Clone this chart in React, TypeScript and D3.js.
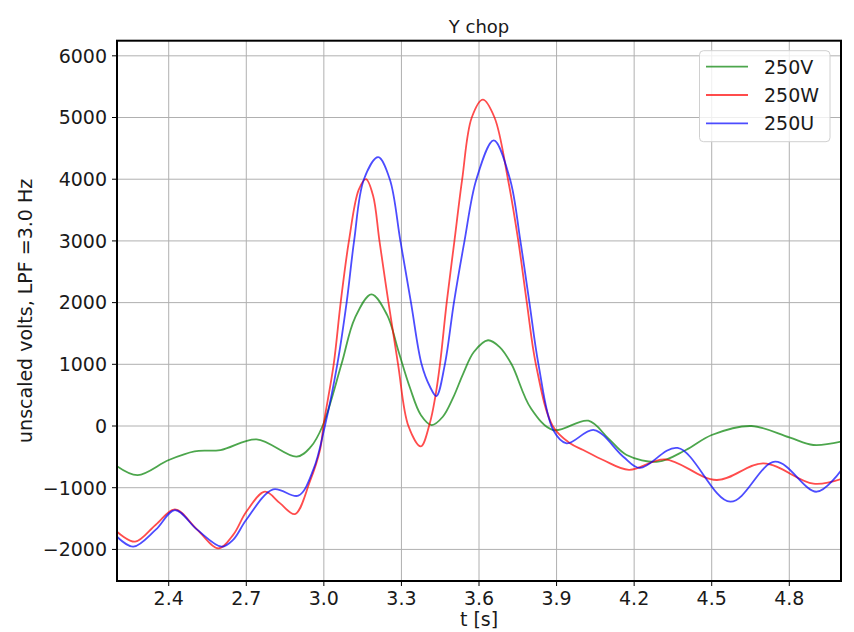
import React from "react";
import * as d3 from "d3";

const title = "Y chop";
const xLabel = "t [s]";
const yLabel = "unscaled volts, LPF =3.0 Hz";
const xTicks = [2.4, 2.7, 3.0, 3.3, 3.6, 3.9, 4.2, 4.5, 4.8];
const yTicks = [-2000, -1000, 0, 1000, 2000, 3000, 4000, 5000, 6000];
const seriesNames = ["250V", "250W", "250U"];
const seriesColors = ["#008000", "#ff0000", "#0000ff"];

const tV = [2.2, 2.28, 2.4, 2.5, 2.6, 2.74, 2.895, 2.95, 2.995, 3.068, 3.12, 3.184, 3.245, 3.288, 3.333, 3.375, 3.417, 3.46, 3.5, 3.539, 3.58, 3.635, 3.68, 3.726, 3.8, 3.887, 4.023, 4.1, 4.171, 4.293, 4.4, 4.5, 4.654, 4.8, 4.893, 5.0];
const vV = [-650, -795, -551, -410, -390, -216, -497, -335, 0, 1000, 1750, 2135, 1796, 1220, 620, 180, 16, 150, 460, 850, 1200, 1390, 1280, 1000, 292, -65, 86, -200, -470, -578, -389, -146, 0, -184, -308, -254];

const tW = [2.2, 2.27, 2.35, 2.424, 2.51, 2.592, 2.65, 2.7, 2.772, 2.83, 2.888, 2.946, 2.985, 3.0, 3.038, 3.065, 3.097, 3.135, 3.163, 3.19, 3.215, 3.25, 3.287, 3.327, 3.375, 3.41, 3.43, 3.449, 3.475, 3.505, 3.535, 3.572, 3.615, 3.66, 3.712, 3.752, 3.785, 3.82, 3.885, 3.952, 4.003, 4.08, 4.18, 4.319, 4.519, 4.7, 4.893, 5.0];
const vW = [-1713, -1875, -1600, -1351, -1680, -1983, -1760, -1390, -1065, -1250, -1427, -900, -390, 50, 1000, 2000, 3000, 3830, 4000, 3740, 3000, 2000, 1000, 0, -330, 50, 450, 1000, 2000, 3000, 4000, 5000, 5290, 5000, 4000, 3000, 2000, 1000, 0, -281, -389, -551, -710, -540, -875, -605, -935, -860];

const tU = [2.2, 2.263, 2.35, 2.424, 2.51, 2.605, 2.65, 2.7, 2.804, 2.901, 2.96, 3.004, 3.052, 3.088, 3.117, 3.155, 3.21, 3.255, 3.296, 3.337, 3.378, 3.41, 3.435, 3.468, 3.503, 3.544, 3.59, 3.657, 3.72, 3.76, 3.795, 3.83, 3.887, 3.939, 4.045, 4.158, 4.222, 4.368, 4.572, 4.745, 4.906, 5.0];
const vU = [-1794, -1956, -1680, -1362, -1680, -1956, -1840, -1520, -1027, -1129, -700, 0, 1000, 2000, 3000, 4000, 4357, 4000, 3000, 2000, 1000, 640, 486, 1000, 2000, 3000, 4000, 4630, 4000, 3000, 2000, 1000, -65, -281, -65, -497, -680, -355, -1227, -578, -1065, -720];

const seriesT = [tV, tW, tU];
const seriesVals = [vV, vW, vU];

const W = 854;
const H = 632;
const left = 117;
const right = 841;
const top = 40.7;
const bottom = 581;
const font = "'DejaVu Sans', sans-serif";

export default function App() {
  const x = d3.scaleLinear().domain([2.2, 5.0]).range([left, right]);
  const y = d3.scaleLinear().domain([-2512, 6245]).range([bottom, top]);
  const line = d3
    .line<[number, number]>()
    .x((d) => x(d[0]))
    .y((d) => y(d[1]))
    .curve(d3.curveCatmullRom.alpha(0.5));

  return (
    <svg
      width={W}
      height={H}
      viewBox={`0 0 ${W} ${H}`}
      style={{ position: "absolute", left: 0, top: 0, background: "#fff" }}
    >
      <defs>
        <clipPath id="plotclip">
          <rect x={left} y={top} width={right - left} height={bottom - top} />
        </clipPath>
      </defs>
      <rect x={0} y={0} width={W} height={H} fill="#fff" />
      {xTicks.map((t) => (
        <line key={"gx" + t} x1={x(t)} x2={x(t)} y1={top} y2={bottom} stroke="#b0b0b0" strokeWidth={1} />
      ))}
      {yTicks.map((v) => (
        <line key={"gy" + v} x1={left} x2={right} y1={y(v)} y2={y(v)} stroke="#b0b0b0" strokeWidth={1} />
      ))}
      <g clipPath="url(#plotclip)">
        {seriesT.map((ts, i) => (
          <path
            key={seriesNames[i]}
            d={line(ts.map((t, j) => [t, seriesVals[i][j]] as [number, number])) || ""}
            fill="none"
            stroke={seriesColors[i]}
            strokeOpacity={0.7}
            strokeWidth={1.8}
          />
        ))}
      </g>
      <rect x={left} y={top} width={right - left} height={bottom - top} fill="none" stroke="#000" strokeWidth={2} />
      {xTicks.map((t) => (
        <g key={"tx" + t}>
          <line x1={x(t)} x2={x(t)} y1={bottom} y2={bottom + 5} stroke="#000" strokeWidth={1} />
          <text x={x(t)} y={605} textAnchor="middle" fontFamily={font} fontSize={19} fill="#1a1a1a">
            {t.toFixed(1)}
          </text>
        </g>
      ))}
      {yTicks.map((v) => (
        <g key={"ty" + v}>
          <line x1={left - 5} x2={left} y1={y(v)} y2={y(v)} stroke="#000" strokeWidth={1} />
          <text x={107} y={y(v)} dy="0.36em" textAnchor="end" fontFamily={font} fontSize={19} fill="#1a1a1a">
            {v < 0 ? "\u2212" + Math.abs(v) : String(v)}
          </text>
        </g>
      ))}
      <text x={(left + right) / 2} y={33} textAnchor="middle" fontFamily={font} fontSize={18} fill="#1a1a1a">
        {title}
      </text>
      <text x={(left + right) / 2} y={626} textAnchor="middle" fontFamily={font} fontSize={19} fill="#1a1a1a">
        {xLabel}
      </text>
      <text
        transform={`translate(32, ${(top + bottom) / 2}) rotate(-90)`}
        textAnchor="middle"
        fontFamily={font}
        fontSize={19}
        fill="#1a1a1a"
      >
        {yLabel}
      </text>
      <g>
        <rect x={699.5} y={50.7} width={130.5} height={91} rx={4} fill="#fff" fillOpacity={0.8} stroke="#d0d0d0" strokeWidth={1} />
        {seriesNames.map((name, i) => (
          <g key={"lg" + name}>
            <line
              x1={706}
              x2={748}
              y1={66.7 + i * 28.3}
              y2={66.7 + i * 28.3}
              stroke={seriesColors[i]}
              strokeOpacity={0.7}
              strokeWidth={1.8}
            />
            <text x={764} y={66.7 + i * 28.3} dy="0.36em" fontFamily={font} fontSize={19} fill="#1a1a1a">
              {name}
            </text>
          </g>
        ))}
      </g>
    </svg>
  );
}
